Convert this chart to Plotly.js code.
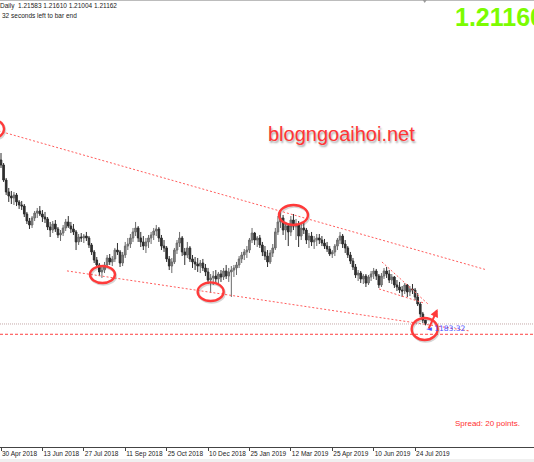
<!DOCTYPE html>
<html>
<head>
<meta charset="utf-8">
<script src="https://cdn.plot.ly/plotly-3.0.1.min.js"></script>
<style>
html,body{margin:0;padding:0;background:#fff;}
#chart{width:534px;height:462px;}
</style>
</head>
<body>
<div id="chart"></div>
<script>
// ---- Data (GBPUSD, Daily; one candle per ~2 sessions) ----
const openP = [
1.3969,1.3913,1.3743,1.3608,1.3562,1.3540,1.3574,1.3495,1.3461,1.3449,
1.3359,1.3280,1.3235,1.3314,1.3370,1.3393,1.3359,1.3325,1.3303,1.3212,
1.3178,1.3246,1.3190,1.3122,1.3144,1.3201,1.3269,1.3223,1.3190,1.3156,
1.3043,1.3099,1.3088,1.3110,1.3088,1.3009,1.2930,1.2839,1.2783,1.2704,
1.2726,1.2783,1.2862,1.2817,1.2851,1.2952,1.2930,1.2805,1.2896,1.2997,
1.3020,1.3088,1.3156,1.3201,1.3088,1.3043,1.2997,1.3043,1.3088,1.3122,
1.3167,1.3190,1.3088,1.2997,1.2975,1.2851,1.2771,1.2817,1.2952,1.3031,
1.3088,1.2930,1.2896,1.2975,1.2851,1.2817,1.2794,1.2771,1.2805,1.2749,
1.2704,1.2613,1.2636,1.2658,1.2625,1.2681,1.2647,1.2715,1.2658,1.2704,
1.2726,1.2749,1.2783,1.2851,1.2896,1.2930,1.2952,1.3065,1.3144,1.3065,
1.3088,1.3009,1.2930,1.2884,1.2817,1.2918,1.2975,1.3156,1.3269,1.3314,
1.3178,1.3223,1.3156,1.3291,1.3223,1.3246,1.3110,1.3201,1.3178,1.3065,
1.3110,1.3043,1.3065,1.3088,1.3065,1.3031,1.2997,1.2964,1.2907,1.2930,
1.2997,1.3065,1.3110,1.3020,1.2975,1.2896,1.2828,1.2760,1.2670,1.2692,
1.2625,1.2658,1.2579,1.2647,1.2681,1.2715,1.2658,1.2557,1.2658,1.2715,
1.2681,1.2613,1.2647,1.2557,1.2534,1.2500,1.2489,1.2557,1.2478,1.2512,
1.2500,1.2421,1.2342,1.2229,1.21583];
const highP = [
1.4048,1.3935,1.3766,1.3653,1.3619,1.3608,1.3596,1.3517,1.3506,1.3472,
1.3382,1.3314,1.3336,1.3393,1.3427,1.3449,1.3404,1.3382,1.3325,1.3269,
1.3280,1.3291,1.3212,1.3178,1.3235,1.3303,1.3336,1.3269,1.3246,1.3178,
1.3133,1.3144,1.3133,1.3156,1.3110,1.3031,1.2952,1.2873,1.2805,1.2771,
1.2817,1.2896,1.2907,1.2884,1.2975,1.3031,1.2952,1.2930,1.3043,1.3088,
1.3133,1.3201,1.3269,1.3223,1.3156,1.3110,1.3088,1.3122,1.3156,1.3201,
1.3235,1.3212,1.3122,1.3065,1.2997,1.2884,1.2862,1.2975,1.3065,1.3156,
1.3110,1.2975,1.3043,1.2997,1.2896,1.2873,1.2862,1.2839,1.2851,1.2794,
1.2749,1.2681,1.2715,1.2726,1.2704,1.2726,1.2749,1.2783,1.2749,1.2771,
1.2783,1.2817,1.2884,1.2930,1.2964,1.2997,1.3088,1.3201,1.3156,1.3110,
1.3122,1.3043,1.2997,1.2952,1.2952,1.3020,1.3201,1.3336,1.3382,1.3348,
1.3269,1.3246,1.3336,1.3359,1.3303,1.3280,1.3246,1.3269,1.3201,1.3144,
1.3156,1.3110,1.3133,1.3133,1.3110,1.3077,1.3043,1.2997,1.2952,1.3020,
1.3088,1.3156,1.3133,1.3065,1.2997,1.2930,1.2862,1.2794,1.2726,1.2715,
1.2681,1.2681,1.2670,1.2715,1.2749,1.2738,1.2681,1.2692,1.2749,1.2760,
1.2726,1.2681,1.2658,1.2613,1.2591,1.2545,1.2579,1.2568,1.2545,1.2568,
1.2523,1.2466,1.2365,1.2252,1.21610];
const lowP = [
1.3879,1.3721,1.3574,1.3495,1.3472,1.3461,1.3449,1.3416,1.3404,1.3325,
1.3246,1.3190,1.3201,1.3280,1.3314,1.3336,1.3269,1.3257,1.3178,1.3099,
1.3144,1.3156,1.3088,1.3054,1.3110,1.3167,1.3201,1.3144,1.3122,1.2952,
1.3009,1.3043,1.3031,1.3054,1.2975,1.2896,1.2805,1.2749,1.2658,1.2636,
1.2692,1.2749,1.2783,1.2771,1.2817,1.2896,1.2760,1.2771,1.2862,1.2952,
1.2975,1.3043,1.3110,1.3043,1.2986,1.2952,1.2918,1.2975,1.3020,1.3065,
1.3110,1.3043,1.2952,1.2930,1.2817,1.2726,1.2692,1.2794,1.2907,1.2986,
1.2884,1.2783,1.2862,1.2817,1.2749,1.2726,1.2704,1.2692,1.2715,1.2658,
1.2568,1.2466,1.2557,1.2579,1.2557,1.2591,1.2613,1.2625,1.2591,1.2421,
1.2647,1.2670,1.2749,1.2805,1.2839,1.2862,1.2918,1.3031,1.3009,1.2986,
1.2975,1.2884,1.2839,1.2760,1.2794,1.2873,1.2952,1.3122,1.3201,1.3122,
1.3065,1.2997,1.3110,1.3178,1.3065,1.2986,1.3065,1.3133,1.3020,1.2975,
1.2997,1.2964,1.2997,1.3020,1.2997,1.2964,1.2930,1.2884,1.2862,1.2884,
1.2952,1.3020,1.2975,1.2918,1.2862,1.2794,1.2726,1.2636,1.2602,1.2579,
1.2568,1.2534,1.2557,1.2602,1.2625,1.2613,1.2523,1.2534,1.2625,1.2636,
1.2579,1.2568,1.2523,1.2489,1.2466,1.2421,1.2455,1.2421,1.2432,1.2455,
1.2387,1.2319,1.2195,1.2127,1.21004];
const closeP = [
1.3913,1.3743,1.3608,1.3562,1.3540,1.3574,1.3495,1.3461,1.3449,1.3359,
1.3280,1.3235,1.3314,1.3370,1.3393,1.3359,1.3325,1.3303,1.3212,1.3178,
1.3246,1.3190,1.3122,1.3144,1.3201,1.3269,1.3223,1.3190,1.3156,1.3043,
1.3099,1.3088,1.3110,1.3088,1.3009,1.2930,1.2839,1.2783,1.2704,1.2726,
1.2783,1.2862,1.2817,1.2851,1.2952,1.2930,1.2805,1.2896,1.2997,1.3020,
1.3088,1.3156,1.3201,1.3088,1.3043,1.2997,1.3043,1.3088,1.3122,1.3167,
1.3190,1.3088,1.2997,1.2975,1.2851,1.2771,1.2817,1.2952,1.3031,1.3088,
1.2930,1.2896,1.2975,1.2851,1.2817,1.2794,1.2771,1.2805,1.2749,1.2704,
1.2613,1.2636,1.2658,1.2625,1.2681,1.2647,1.2715,1.2658,1.2704,1.2726,
1.2749,1.2783,1.2851,1.2896,1.2930,1.2952,1.3065,1.3144,1.3065,1.3088,
1.3009,1.2930,1.2884,1.2817,1.2918,1.2975,1.3156,1.3269,1.3314,1.3178,
1.3223,1.3156,1.3291,1.3223,1.3246,1.3110,1.3201,1.3178,1.3065,1.3110,
1.3043,1.3065,1.3088,1.3065,1.3031,1.2997,1.2964,1.2907,1.2930,1.2997,
1.3065,1.3110,1.3020,1.2975,1.2896,1.2828,1.2760,1.2670,1.2692,1.2625,
1.2658,1.2579,1.2647,1.2681,1.2715,1.2658,1.2557,1.2658,1.2715,1.2681,
1.2613,1.2647,1.2557,1.2534,1.2500,1.2489,1.2557,1.2478,1.2512,1.2500,
1.2421,1.2342,1.2229,1.2161,1.21162];
const barIndex = openP.map((_, i) => i);

// x-axis date labels (bar index where each label sits)
const tickIdx    = [0, 16, 32, 48, 64, 80, 96, 112, 128, 144, 160];
const tickLabels = ["30 Apr 2018","13 Jun 2018","27 Jul 2018","11 Sep 2018","25 Oct 2018",
                    "10 Dec 2018","25 Jan 2019","12 Mar 2019","25 Apr 2019","10 Jun 2019","24 Jul 2019"];

// drawn trend lines (bar index, price)
const upperTrendX = [-1, 187],     upperTrendY = [1.4299, 1.2733];
const lowerTrendX = [25.5, 181.2], lowerTrendY = [1.2716, 1.2037];
const wedgeTopX   = [147.2, 165.0], wedgeTopY  = [1.2817, 1.2342];
const wedgeBotX   = [146.1, 163.4], wedgeBotY  = [1.2512, 1.2353];

// marked swing points (bar index, price)
const circleIdx   = [-2.3, 39.2, 81.0, 113.0, 163.7];
const circlePrice = [1.4320, 1.2675, 1.2481, 1.3348, 1.2060];

// price levels
const bidPrice = 1.21162;
const roundLevel = 1.2000;
const arrowIdx = 168.7, arrowPrice = 1.2286;

// header
const symbolLine = "Daily  1.21583 1.21610 1.21004 1.21162";
const timerLine  = "32 seconds left to bar end";
const bigPrice   = "1.21160";
const spreadText = "Spread: 20 points.";
const watermark  = "blogngoaihoi.net";
const timerLabel = "◄ 1183:32";

// ---- styles ----
const FONT = "Liberation Sans, Arial, sans-serif";
const circleRx = [9, 12.5, 13, 14.5, 13];
const circleRy = [8.5, 8.5, 9.3, 10, 11];

const traces = [
  {
    type: "candlestick", x: barIndex, open: openP, high: highP, low: lowP, close: closeP,
    increasing: {line: {color: "#6a6a6a", width: 1}, fillcolor: "#8a8a8a"},
    decreasing: {line: {color: "#2e2e2e", width: 1}, fillcolor: "#2e2e2e"},
    whiskerwidth: 0, hoverinfo: "skip", showlegend: false
  }
];
[[upperTrendX, upperTrendY], [lowerTrendX, lowerTrendY], [wedgeTopX, wedgeTopY], [wedgeBotX, wedgeBotY]]
.forEach(([xs, ys]) => traces.push({
  type: "scatter", mode: "lines", x: xs, y: ys, hoverinfo: "skip", showlegend: false,
  line: {color: "#ff5c5c", width: 1, dash: "2px,2px"}, cliponaxis: true
}));

const shapes = [];
// bottom grey strip and top border
shapes.push({type: "rect", xref: "paper", yref: "paper", x0: 0, x1: 1, y0: -0.0336, y1: -0.0268,
             fillcolor: "#f0f0f0", line: {width: 0}, layer: "below"});
shapes.push({type: "line", xref: "paper", yref: "paper", x0: 0, x1: 1, y0: 0.999, y1: 0.999,
             line: {color: "#b8b8b8", width: 1}});
shapes.push({type: "path", xref: "paper", yref: "paper",
             path: "M 0.7916 1 L 0.7991 1 L 0.7954 0.9933 Z", fillcolor: "#9a9a9a", line: {width: 0}});
// price level lines
shapes.push({type: "line", xref: "paper", yref: "y", x0: 0, x1: 1, y0: bidPrice, y1: bidPrice,
             line: {color: "#c4a8a8", width: 1, dash: "1px,1px"}});
shapes.push({type: "line", xref: "paper", yref: "y", x0: 0, x1: 1, y0: roundLevel, y1: roundLevel,
             line: {color: "#ff4040", width: 1, dash: "3px,2px"}});
// circles (shadow + ring)
circleIdx.forEach((cx, i) => {
  const rx = circleRx[i], ry = circleRy[i];
  shapes.push({type: "circle", xref: "x", yref: "y", xsizemode: "pixel", ysizemode: "pixel",
    xanchor: cx, yanchor: circlePrice[i], x0: -rx + 1, x1: rx + 1, y0: -ry - 1.5, y1: ry - 1.5,
    line: {color: "rgba(0,0,0,0.16)", width: 2.5}});
  shapes.push({type: "circle", xref: "x", yref: "y", xsizemode: "pixel", ysizemode: "pixel",
    xanchor: cx, yanchor: circlePrice[i], x0: -rx, x1: rx, y0: -ry, y1: ry,
    line: {color: "#ff3a3a", width: 2.4}});
});

const annotations = [
  {xref: "paper", yref: "paper", x: 0, y: 0.9866, xanchor: "left", yanchor: "middle", xshift: -2,
   text: symbolLine, showarrow: false, font: {family: FONT, size: 6.5, color: "#222"}},
  {xref: "paper", yref: "paper", x: 0, y: 0.9664, xanchor: "left", yanchor: "middle", xshift: 0,
   text: timerLine, showarrow: false, font: {family: FONT, size: 6.5, color: "#222"}},
  {xref: "paper", yref: "paper", x: 0.852, y: 0.962, xanchor: "left", yanchor: "middle", xshift: -2,
   text: bigPrice, showarrow: false, font: {family: FONT, size: 25, color: "#7cfc00", weight: "bold"}},
  {xref: "paper", yref: "paper", x: 0.6395, y: 0.7002, xanchor: "center", yanchor: "middle",
   text: watermark, showarrow: false,
   font: {family: FONT, size: 20, color: "#ff3535", shadow: "1px 2px 2px rgba(0,0,0,0.35)"}},
  {xref: "paper", yref: "paper", x: 0.9129, y: 0.0515, xanchor: "center", yanchor: "middle",
   text: spreadText, showarrow: false, font: {family: FONT, size: 8, color: "#ff3030"}},
  {xref: "paper", yref: "paper", x: 0.797, y: 0.2662, xanchor: "left", yanchor: "middle", xshift: -2,
   text: timerLabel, showarrow: false, font: {family: "DejaVu Sans, " + FONT, size: 7.5, color: "#5050ff"}},
  {xref: "x", yref: "y", x: arrowIdx, y: arrowPrice, ax: -9.5, ay: 21, axref: "pixel", ayref: "pixel",
   text: "", showarrow: true, arrowhead: 2, arrowsize: 0.8, arrowwidth: 2, arrowcolor: "#ff3a3a"}
];

const layout = {
  width: 534, height: 462,
  margin: {l: 0, r: 0, t: 0, b: 15, pad: 0},
  paper_bgcolor: "#ffffff", plot_bgcolor: "#ffffff",
  showlegend: false, hovermode: false, boxgap: 0.1,
  xaxis: {
    range: [-0.386, 205.95], fixedrange: true, rangeslider: {visible: false},
    showgrid: false, zeroline: false, showline: true, linecolor: "#444", linewidth: 1,
    ticks: "outside", ticklen: 3, tickcolor: "#444", tickwidth: 1,
    tickmode: "array", tickvals: tickIdx, ticktext: tickLabels, tickangle: 0,
    ticklabelposition: "outside right", tickfont: {family: FONT, size: 6.5, color: "#222"},
    automargin: false
  },
  yaxis: {
    range: [1.07261, 1.57772], visible: false, fixedrange: true, showgrid: false, zeroline: false
  },
  shapes: shapes,
  annotations: annotations
};

Plotly.newPlot("chart", traces, layout, {staticPlot: true, displayModeBar: false});
</script>
</body>
</html>
